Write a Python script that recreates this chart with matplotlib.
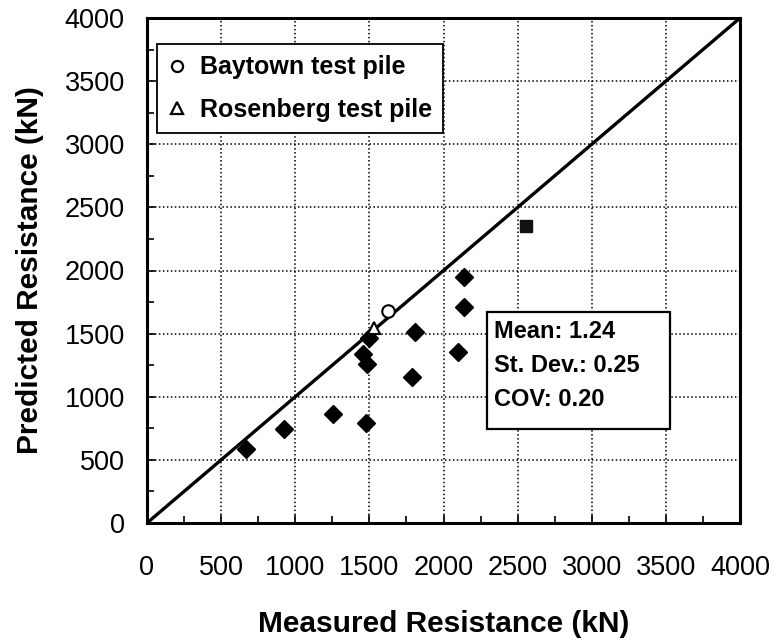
import matplotlib
matplotlib.use("Agg")
import matplotlib.pyplot as plt
from matplotlib.lines import Line2D
from matplotlib.patches import Rectangle
from matplotlib.ticker import MultipleLocator

plt.rcParams['font.family'] = ['Liberation Sans', 'DejaVu Sans']

# Data (kN)
measured_other = [671, 922, 1252, 1479, 1455, 1484, 1495, 1809, 1787, 2097, 2135, 2135]
predicted_other = [585, 743, 862, 796, 1339, 1259, 1466, 1516, 1159, 1352, 1952, 1709]
baytown_measured = [1625]
baytown_predicted = [1683]
rosenberg_measured = [1529]
rosenberg_predicted = [1545]
square_measured = [2554]
square_predicted = [2352]
ticks = [0, 500, 1000, 1500, 2000, 2500, 3000, 3500, 4000]
stats_lines = ["Mean: 1.24", "St. Dev.: 0.25", "COV: 0.20"]

fig = plt.figure(figsize=(7.76, 6.42), dpi=100)
ax = fig.add_axes([147/776, 1-523/642, 593/776, 505/642])

ax.set_xlim(0, 4000)
ax.set_ylim(0, 4000)
ax.set_xticks(ticks)
ax.set_yticks(ticks)
ax.xaxis.set_minor_locator(MultipleLocator(250))
ax.yaxis.set_minor_locator(MultipleLocator(250))
ax.tick_params(which='both', direction='in', top=False, right=False, width=1.2)
ax.tick_params(which='major', length=6)
ax.tick_params(which='minor', length=5)
ax.tick_params(axis='x', labelsize=19.5, pad=23)
ax.tick_params(axis='y', labelsize=19.5, pad=16)

ax.grid(True, which='major', color='black', linestyle=(0, (1, 1.6)), linewidth=1.1)
ax.set_axisbelow(True)
for sp in ax.spines.values():
    sp.set_linewidth(2.2)
    sp.set_color('black')

# 1:1 line
ax.plot([0, 4000], [0, 4000], color='black', linewidth=2.4, zorder=3)

ax.plot(measured_other, predicted_other, linestyle='none', marker='D',
        markersize=9, color='black', zorder=4)
ax.plot(square_measured, square_predicted, linestyle='none', marker='s',
        markersize=9, color='#111111', zorder=4)
ax.plot(baytown_measured, baytown_predicted, linestyle='none', marker='o',
        markersize=9, markerfacecolor='white', markeredgecolor='black',
        markeredgewidth=1.5, zorder=5)
ax.plot(rosenberg_measured, rosenberg_predicted, linestyle='none', marker='^',
        markersize=9, markerfacecolor='white', markeredgecolor='black',
        markeredgewidth=1.5, zorder=5)

handles = [
    Line2D([], [], linestyle='none', marker='o', markersize=8,
           markerfacecolor='white', markeredgecolor='black', markeredgewidth=1.6),
    Line2D([], [], linestyle='none', marker='^', markersize=8,
           markerfacecolor='white', markeredgecolor='black', markeredgewidth=1.6),
]
leg = ax.legend(handles, ["Baytown test pile", "Rosenberg test pile"],
                loc='upper left', bbox_to_anchor=((157-147)/593, (523-44)/505),
                borderaxespad=0, frameon=True, fancybox=False,
                prop={'weight': 'bold', 'size': 18}, handlelength=0.7,
                handletextpad=0.55, borderpad=0.45, labelspacing=0.75)
leg.get_frame().set_edgecolor('black')
leg.get_frame().set_linewidth(1.3)
leg.get_frame().set_alpha(1)
leg.set_zorder(6)

# Stats box
rect = Rectangle(((487-147)/593, (523-429)/505), (670-487)/593, (429-312)/505,
                 transform=ax.transAxes, facecolor='white', edgecolor='black',
                 linewidth=1.6, zorder=6)
ax.add_patch(rect)
for line, ypix in zip(stats_lines, [332, 365, 399]):
    ax.text((494-147)/593, (523-ypix)/505, line, transform=ax.transAxes,
            ha='left', va='center', fontsize=17, fontweight='bold', zorder=7)

ax.set_xlabel("Measured Resistance (kN)", fontsize=21.5, fontweight='bold')
ax.set_ylabel("Predicted Resistance (kN)", fontsize=21.5, fontweight='bold')
ax.xaxis.set_label_coords(0.5, (523-610)/505)
ax.yaxis.label.set_verticalalignment('center')
ax.yaxis.set_label_coords((30-147)/593, 0.5)

fig.savefig("out.png", dpi=100)
